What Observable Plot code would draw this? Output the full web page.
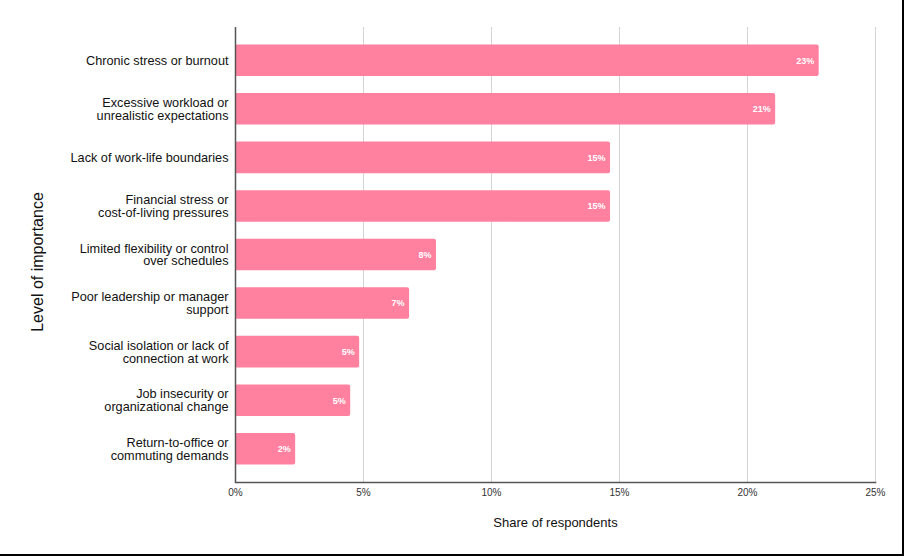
<!DOCTYPE html>
<html>
<head>
<meta charset="utf-8">
<script src="https://cdn.jsdelivr.net/npm/d3@7"></script>
<script src="https://cdn.jsdelivr.net/npm/@observablehq/plot@0.6"></script>
<style>
  html, body { margin: 0; padding: 0; background: #fff; }
  #frame { width: 902px; height: 554px; border-right: 2px solid #000; border-bottom: 2px solid #000; overflow: hidden; }
  svg { font-family: "Liberation Sans", Arial, Helvetica, sans-serif; }
</style>
</head>
<body>
<div id="frame"></div>
<script>
const categories = [
  "Chronic stress or burnout",
  "Excessive workload or\nunrealistic expectations",
  "Lack of work-life boundaries",
  "Financial stress or\ncost-of-living pressures",
  "Limited flexibility or control\nover schedules",
  "Poor leadership or manager\nsupport",
  "Social isolation or lack of\nconnection at work",
  "Job insecurity or\norganizational change",
  "Return-to-office or\ncommuting demands"
];
const shares = [22.8, 21.1, 14.65, 14.65, 7.85, 6.8, 4.85, 4.5, 2.35];
const xTicks = [0, 5, 10, 15, 20, 25];
const xTitle = "Share of respondents";
const yTitle = "Level of importance";

const data = categories.map((c, i) => ({category: c, share: shares[i]}));

const chart = Plot.plot({
  width: 902,
  height: 554,
  marginLeft: 235,
  marginRight: 27,
  marginTop: 27,
  marginBottom: 72,
  style: {fontFamily: '"Liberation Sans", Arial, Helvetica, sans-serif', background: "#fff"},
  x: {domain: [0, 25]},
  y: {domain: categories, paddingInner: 0.35, paddingOuter: 0.36, round: false},
  marks: [
    Plot.gridX(xTicks, {stroke: "#d3d3d3", strokeOpacity: 1, strokeWidth: 1}),
    Plot.barX(data, {x: "share", y: "category", fill: "#ff809f", rx: 2}),
    Plot.text(data, {
      x: "share", y: "category",
      text: d => Math.round(d.share) + "%",
      textAnchor: "end", dx: -5,
      fill: "#fff", fontWeight: "bold", fontSize: 9
    }),
    Plot.ruleX([0], {stroke: "#555", strokeWidth: 1.5}),
    Plot.frame({anchor: "bottom", stroke: "#555", strokeWidth: 1.5}),
    Plot.axisX(xTicks, {
      tickSize: 0, tickPadding: 6,
      tickFormat: d => d + "%",
      fontSize: 10, fill: "#333",
      label: xTitle, labelAnchor: "center", labelArrow: "none", labelOffset: 44
    }),
    Plot.axisY({
      tickSize: 0, tickPadding: 7,
      fontSize: 12.7, fill: "#111",
      label: null
    }),
    Plot.text([yTitle], {
      frameAnchor: "left", dx: -198, dy: 7, rotate: -90,
      text: d => d, fontSize: 16, fill: "#111", textAnchor: "middle"
    })
  ]
});
chart.querySelectorAll("[aria-label='x-axis label'] text").forEach(t => { t.setAttribute("font-size", "13"); t.setAttribute("fill", "#111"); });
document.getElementById("frame").appendChild(chart);
</script>
</body>
</html>
